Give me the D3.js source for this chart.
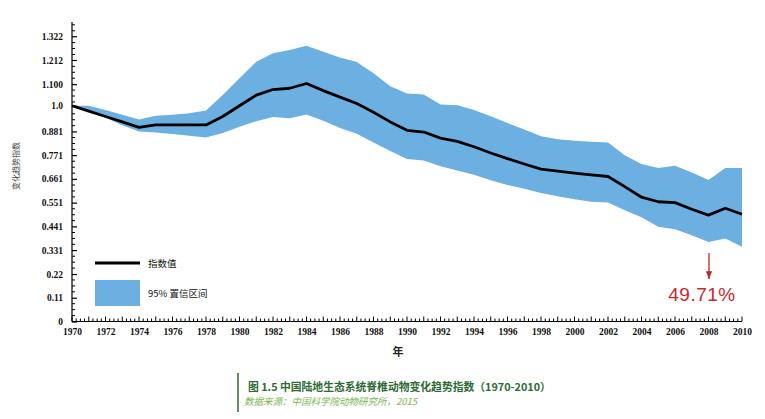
<!DOCTYPE html>
<html>
<head>
<meta charset="utf-8">
<script src="https://cdn.jsdelivr.net/npm/d3@7"></script>
<style>
  html, body { margin: 0; padding: 0; background: #fff; }
  svg { display: block; }
</style>
</head>
<body>
<svg id="chart" width="765" height="419"></svg>
<script>
// ---- data ----
const years = d3.range(1970, 2011);
const indexValues = [
  1.000, 0.975, 0.950, 0.925, 0.900, 0.911, 0.911, 0.911, 0.911, 0.950,
  1.000, 1.049, 1.075, 1.081, 1.103, 1.070, 1.040, 1.010, 0.970, 0.925,
  0.886, 0.878, 0.850, 0.835, 0.810, 0.781, 0.755, 0.730, 0.706, 0.697,
  0.688, 0.680, 0.672, 0.625, 0.576, 0.555, 0.551, 0.520, 0.493, 0.525,
  0.497
];
const upperValues = [
  1.000, 1.000, 0.980, 0.958, 0.936, 0.954, 0.958, 0.965, 0.978, 1.050,
  1.127, 1.204, 1.243, 1.258, 1.278, 1.250, 1.223, 1.203, 1.150, 1.090,
  1.057, 1.052, 1.006, 1.002, 0.980, 0.951, 0.920, 0.890, 0.858, 0.845,
  0.838, 0.833, 0.830, 0.770, 0.730, 0.711, 0.722, 0.690, 0.656, 0.711,
  0.711
];
const lowerValues = [
  1.000, 0.975, 0.945, 0.910, 0.881, 0.876, 0.869, 0.861, 0.853, 0.874,
  0.903, 0.928, 0.948, 0.942, 0.959, 0.930, 0.897, 0.870, 0.830, 0.790,
  0.753, 0.746, 0.720, 0.700, 0.680, 0.655, 0.633, 0.615, 0.595, 0.580,
  0.567, 0.555, 0.551, 0.515, 0.483, 0.439, 0.427, 0.400, 0.369, 0.385,
  0.346
];
const yTickValues = [0, 0.11, 0.22, 0.331, 0.441, 0.551, 0.661, 0.771, 0.881, 1.0, 1.1, 1.212, 1.322];
const yTickLabels = ["0", "0.11", "0.22", "0.331", "0.441", "0.551", "0.661", "0.771", "0.881", "1.0", "1.100", "1.212", "1.322"];
const xTickYears = d3.range(1970, 2011, 2);
const finalLabel = "49.71%";
const legendLine = "指数值";
const legendBand = "95% 置信区间";
const yTitle = "变化趋势指数";
const xTitle = "年";
const captionTitle = "图 1.5 中国陆地生态系统脊椎动物变化趋势指数（1970-2010）";
const captionSource = "数据来源：中国科学院动物研究所，2015";

// ---- layout ----
const svg = d3.select("#chart");
const x = d3.scaleLinear().domain([1970, 2010]).range([72, 742]);
const y = d3.scaleLinear().domain([0, 1.388]).range([321.5, 22]);
const serif = "'Liberation Serif', 'DejaVu Serif', serif";
const cjk = "'Noto Sans CJK SC', 'Noto Sans', sans-serif";
const bandColor = "#6cafe1";

const rows = years.map((yr, i) => ({ yr, v: indexValues[i], hi: upperValues[i], lo: lowerValues[i] }));

// band
svg.append("path")
  .datum(rows)
  .attr("d", d3.area().x(d => x(d.yr)).y0(d => y(d.lo)).y1(d => y(d.hi)))
  .attr("fill", bandColor);

// line
svg.append("path")
  .datum(rows)
  .attr("d", d3.line().x(d => x(d.yr)).y(d => y(d.v)))
  .attr("fill", "none")
  .attr("stroke", "#000")
  .attr("stroke-width", 2.8)
  .attr("stroke-linejoin", "round");

// y axis
const yAxis = d3.axisRight(y).tickValues(yTickValues).tickSize(5)
  .tickFormat((d, i) => yTickLabels[i]);
const gy = svg.append("g").attr("transform", "translate(72,0)").call(yAxis);
gy.select(".domain").attr("d", `M0,${y(0)}V${y.range()[1]}`).attr("stroke", "#000").attr("stroke-width", 1.2);
gy.selectAll(".tick line").attr("stroke", "#000").attr("stroke-width", 1.2);
gy.selectAll(".tick text")
  .attr("x", -9).attr("text-anchor", "end")
  .attr("font-family", serif).attr("font-weight", "bold").attr("font-size", 9.5).attr("fill", "#111");
// y minor ticks
const yMinor = d3.range(0, 1.39, 0.0275).filter(v => !yTickValues.some(t => Math.abs(t - v) < 0.012));
gy.selectAll(".minor").data(yMinor).join("line")
  .attr("class", "minor")
  .attr("x1", 0).attr("x2", 3)
  .attr("y1", d => y(d)).attr("y2", d => y(d))
  .attr("stroke", "#000").attr("stroke-width", 1);

// x axis
const xAxis = d3.axisBottom(x).tickValues(xTickYears).tickSize(0).tickFormat(d3.format("d"));
const gx = svg.append("g").attr("transform", `translate(0,${y(0)})`).call(xAxis);
gx.select(".domain").attr("d", `M72,0H742`).attr("stroke", "#000").attr("stroke-width", 1.2);
gx.selectAll(".tick text")
  .attr("y", 7)
  .attr("font-family", serif).attr("font-weight", "bold").attr("font-size", 9.5).attr("fill", "#111");
const xMinor = d3.range(0, 161).map(i => 1970 + i * 0.25);
gx.selectAll(".xminor").data(xMinor).join("line")
  .attr("class", "xminor")
  .attr("x1", d => x(d)).attr("x2", d => x(d))
  .attr("y1", 0).attr("y2", d => (Math.abs(d - Math.round(d)) < 0.01 ? -5 : -3))
  .attr("stroke", "#000").attr("stroke-width", 1);

// axis titles
svg.append("text")
  .attr("transform", "translate(19,166) rotate(-90)")
  .attr("text-anchor", "middle")
  .attr("font-family", cjk).attr("font-size", 8).attr("fill", "#444")
  .text(yTitle);
svg.append("text")
  .attr("x", 398).attr("y", 356)
  .attr("text-anchor", "middle")
  .attr("font-family", cjk).attr("font-weight", "bold").attr("font-size", 11).attr("fill", "#222")
  .text(xTitle);

// legend
svg.append("line").attr("x1", 95).attr("x2", 140).attr("y1", 263).attr("y2", 263)
  .attr("stroke", "#000").attr("stroke-width", 3);
svg.append("text").attr("x", 148).attr("y", 263).attr("dominant-baseline", "central")
  .attr("font-family", cjk).attr("font-size", 9.5).attr("fill", "#111").text(legendLine);
svg.append("rect").attr("x", 95).attr("y", 280).attr("width", 45).attr("height", 26).attr("fill", bandColor);
svg.append("text").attr("x", 148).attr("y", 293).attr("dominant-baseline", "central")
  .attr("font-family", cjk).attr("font-size", 9.5).attr("fill", "#111").text(legendBand);

// annotation
const annColor = "#b22a2a";
svg.append("defs").append("marker")
  .attr("id", "arrow").attr("viewBox", "0 0 10 10").attr("refX", 10).attr("refY", 5)
  .attr("markerWidth", 6).attr("markerHeight", 6).attr("orient", "auto")
  .append("path").attr("d", "M0,1L10,5L0,9Z").attr("fill", annColor);
svg.append("line")
  .attr("x1", x(2008) + 0.5).attr("x2", x(2008) + 0.5)
  .attr("y1", 253).attr("y2", 279)
  .attr("stroke", annColor).attr("stroke-width", 1.3)
  .attr("marker-end", "url(#arrow)");
svg.append("text")
  .attr("x", 702).attr("y", 301).attr("text-anchor", "middle")
  .attr("font-family", "'Liberation Sans', Arial, sans-serif").attr("font-size", 19)
  .attr("letter-spacing", 0.5)
  .attr("fill", "#c8282c").text(finalLabel);

// caption
svg.append("line").attr("x1", 238).attr("x2", 238).attr("y1", 373).attr("y2", 412)
  .attr("stroke", "#2f6a2f").attr("stroke-width", 1.5);
svg.append("text").attr("x", 248).attr("y", 386).attr("dominant-baseline", "central")
  .attr("font-family", cjk).attr("font-weight", "bold").attr("font-size", 10.8).attr("fill", "#2e6a34")
  .text(captionTitle);
svg.append("text").attr("x", 244).attr("y", 401).attr("dominant-baseline", "central")
  .attr("font-family", cjk).attr("font-style", "italic").attr("font-size", 9.5).attr("fill", "#7cb550")
  .text(captionSource);
</script>
</body>
</html>
